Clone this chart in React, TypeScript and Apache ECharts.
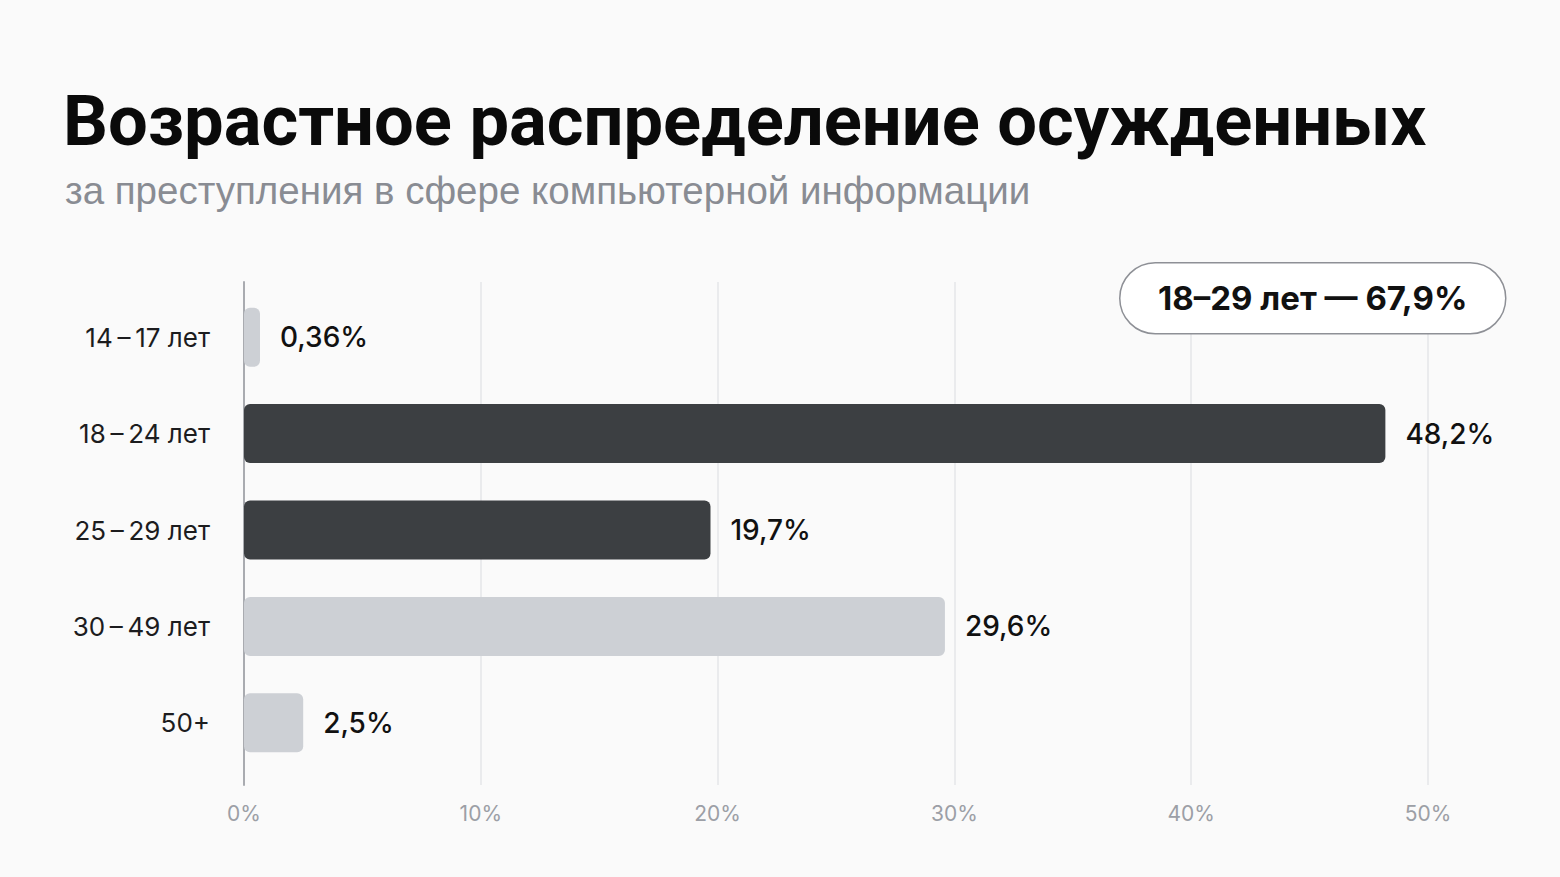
import { useEffect, useRef } from 'react';
import * as echarts from 'echarts';

const categories = ['14\u2009–\u200917 лет', '18\u2009–\u200924 лет', '25\u2009–\u200929 лет', '30\u2009–\u200949 лет', '50+'];
const values = [0.36, 48.2, 19.7, 29.6, 2.5];
const valueLabels = ['0,36%', '48,2%', '19,7%', '29,6%', '2,5%'];
const highlighted = [false, true, true, false, false];
const xMax = 50;
const xStep = 10;

const title = 'Возрастное распределение осужденных';
const subtitle = 'за преступления в сфере компьютерной информации';
const badgeText = '18–29 лет — 67,9%';

const FONT = 'Inter, "Noto Sans", sans-serif';
const TITLE_FONT = 'Roboto, "Liberation Sans", sans-serif';
const SUB_FONT = '"Liberation Sans", Arial, sans-serif';

function App() {
  const chartRef = useRef<HTMLDivElement>(null);

  useEffect(() => {
    document.body.style.margin = '0';
    if (!chartRef.current) return;
    const chart = echarts.init(chartRef.current, undefined, { renderer: 'svg' });

    chart.setOption({
      animation: false,
      backgroundColor: '#fafafa',
      textStyle: { fontFamily: FONT },
      grid: [
        { left: 244, right: 132, top: 282, height: 503 },
        { left: 244, right: 132, top: 289, height: 482 },
      ],
      xAxis: [
        {
          gridIndex: 0,
          type: 'value',
          min: 0,
          max: xMax,
          interval: xStep,
          axisLine: { show: false },
          axisTick: { show: false },
          splitLine: { lineStyle: { color: '#e5e6e9', width: 1.5 } },
          axisLabel: {
            formatter: '{value}%',
            color: '#9c9fa6',
            fontSize: 21,
            margin: 18,
            fontFamily: FONT,
          },
        },
        { gridIndex: 1, type: 'value', min: 0, max: xMax, show: false },
      ],
      yAxis: [
        {
          gridIndex: 0,
          type: 'value',
          min: 0,
          max: 1,
          axisLine: { show: true, lineStyle: { color: '#a9abb0', width: 2 } },
          axisTick: { show: false },
          axisLabel: { show: false },
          splitLine: { show: false },
        },
        {
          gridIndex: 1,
          type: 'category',
          inverse: true,
          data: categories,
          axisLine: { show: false },
          axisTick: { show: false },
          axisLabel: {
            color: '#1c1c1e',
            fontSize: 26,
            margin: 34,
            fontFamily: FONT,
          },
        },
      ],
      series: [
        {
          type: 'bar',
          xAxisIndex: 1,
          yAxisIndex: 1,
          barWidth: 59,
          barMinHeight: 16,
          data: values.map((v, i) => ({
            value: v,
            itemStyle: {
              color: highlighted[i] ? '#3c3f42' : '#cdd0d5',
              borderRadius: 6,
            },
          })),
          label: {
            show: true,
            position: 'right',
            distance: 20,
            fontSize: 28,
            fontWeight: 500,
            color: '#111111',
            fontFamily: FONT,
            formatter: (p: { dataIndex: number }) => valueLabels[p.dataIndex],
          },
        },
      ],
      graphic: [
        {
          type: 'text',
          left: 63,
          top: 85,
          style: {
            text: title,
            fontSize: 70.5,
            fontWeight: 700,
            fill: '#0a0a0a',
            fontFamily: TITLE_FONT,
          },
        },
        {
          type: 'text',
          left: 65,
          top: 171,
          style: {
            text: subtitle,
            fontSize: 38.5,
            fontWeight: 400,
            fill: '#898c93',
            fontFamily: SUB_FONT,
          },
        },
        {
          type: 'group',
          left: 1119,
          top: 262,
          z: 100,
          children: [
            {
              type: 'rect',
              z: 100,
              shape: { x: 0, y: 0, width: 386, height: 71, r: 35.5 },
              style: { fill: '#ffffff', stroke: '#8e9096', lineWidth: 1.5 },
            },
            {
              type: 'text',
              z: 101,
              x: 193,
              y: 35.5,
              style: {
                text: badgeText,
                fontSize: 33,
                fontWeight: 700,
                fill: '#111111',
                align: 'center',
                verticalAlign: 'middle',
                fontFamily: FONT,
              },
            },
          ],
        },
      ],
    });

    return () => chart.dispose();
  }, []);

  return <div ref={chartRef} style={{ width: '1560px', height: '877px' }} />;
}

export default App;
